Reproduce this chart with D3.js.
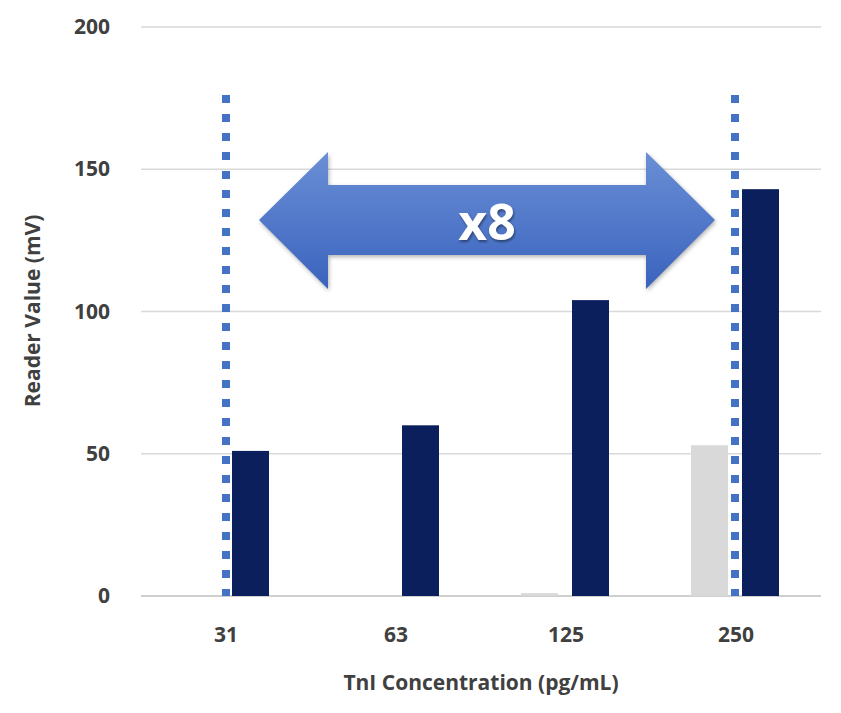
<!DOCTYPE html><html><head><meta charset="utf-8"><script src="https://cdn.jsdelivr.net/npm/d3@7"></script>
<style>body{margin:0;background:#fff}</style></head><body><svg id="c" width="841" height="713"></svg>
<script>
const categories=["31","63","125","250"];
const seriesLight=[0,0,1,53];
const seriesDark=[51,60,104,143];
const yTicks=[0,50,100,150,200];
const svg=d3.select("#c");
const x=d3.scaleBand().domain(categories).range([141,821]);
const y=d3.scaleLinear().domain([0,200]).range([596,27]);
const defs=svg.append("defs");
const g=defs.append("linearGradient").attr("id","ag").attr("x1",0).attr("x2",0).attr("y1",0).attr("y2",1);
g.append("stop").attr("offset",0).attr("stop-color","#6a8fd6");
g.append("stop").attr("offset",1).attr("stop-color","#3a63bd");
svg.append("g").selectAll("line").data(yTicks).join("line")
 .attr("x1",141).attr("x2",821).attr("y1",d=>y(d)).attr("y2",d=>y(d))
 .attr("stroke",d=>d===0?"#bfbfbf":"#d9d9d9").attr("stroke-width",1.3);
svg.append("g").selectAll("text").data(yTicks).join("text")
 .attr("x",110).attr("y",d=>y(d)+7).attr("text-anchor","end")
 .attr("font-family","Open Sans").attr("font-weight","bold").attr("font-size",21).attr("fill","#404040").text(d=>d);
svg.append("g").selectAll("text").data(categories).join("text")
 .attr("x",d=>x(d)+x.bandwidth()/2).attr("y",642).attr("text-anchor","middle")
 .attr("font-family","Open Sans").attr("font-weight","bold").attr("font-size",21).attr("fill","#404040").text(d=>d);
const bw=37;
svg.append("g").selectAll("rect").data(categories).join("rect")
 .attr("x",d=>x(d)+x.bandwidth()/2-45).attr("width",bw)
 .attr("y",(d,i)=>y(seriesLight[i])).attr("height",(d,i)=>y(0)-y(seriesLight[i])).attr("fill","#d9d9d9");
svg.append("g").selectAll("rect").data(categories).join("rect")
 .attr("x",d=>x(d)+x.bandwidth()/2+6).attr("width",bw)
 .attr("y",(d,i)=>y(seriesDark[i])).attr("height",(d,i)=>y(0)-y(seriesDark[i])).attr("fill","#0b1f5c");
["31","250"].forEach(c=>{
 const cx=x(c)+x.bandwidth()/2+(c==="31"?0:-1);
 svg.append("line").attr("x1",cx).attr("x2",cx).attr("y1",95).attr("y2",596)
  .attr("stroke","#4472c4").attr("stroke-width",8).attr("stroke-dasharray","8 11");
});
const ap=[[259,220],[328,152],[328,185],[646,185],[646,152],[715,220],[646,289],[646,255],[328,255],[328,289]];
svg.append("polygon").attr("points",ap.map(p=>p.join(",")).join(" ")).attr("fill","url(#ag)")
 .style("filter","drop-shadow(1px 2px 2px rgba(0,0,0,0.3))");
svg.append("text").attr("x",487).attr("y",240).attr("text-anchor","middle")
 .attr("font-family","Open Sans").attr("font-weight","bold").attr("font-size",50).attr("fill","#fff")
 .style("filter","drop-shadow(1px 2px 1px rgba(0,0,0,0.4))").text("x8");
svg.append("text").attr("x",481).attr("y",690).attr("text-anchor","middle")
 .attr("font-family","Open Sans").attr("font-weight","bold").attr("font-size",21).attr("fill","#404040").text("TnI Concentration (pg/mL)");
svg.append("text").attr("transform","translate(40,311) rotate(-90)").attr("text-anchor","middle")
 .attr("font-family","Open Sans").attr("font-weight","bold").attr("font-size",21).attr("fill","#404040").text("Reader Value (mV)");
</script></body></html>
